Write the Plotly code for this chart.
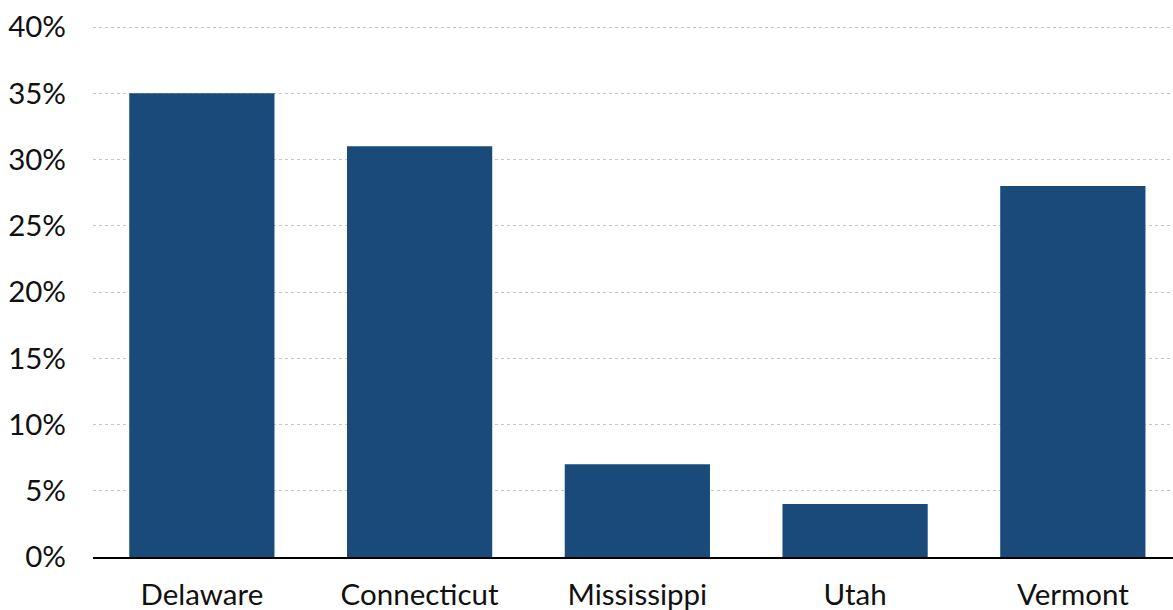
import plotly.graph_objects as go

states = ["Delaware", "Connecticut", "Mississippi", "Utah", "Vermont"]
shares = [35, 31, 7, 4, 28]
y_ticks = [0, 5, 10, 15, 20, 25, 30, 35, 40]
y_tick_labels = [f"{v}%" for v in y_ticks]

fig = go.Figure(go.Bar(
    x=states, y=shares,
    marker=dict(color="#194a7a", line=dict(width=0)),
))

fig.update_layout(
    width=1173, height=610,
    margin=dict(l=93, r=0, t=26, b=53, autoexpand=False),
    plot_bgcolor="white", paper_bgcolor="white",
    bargap=0.333,
    showlegend=False,
    font=dict(family="Lato", size=29.5, color="#111111"),
)
fig.update_xaxes(
    range=[-0.5, 4.46], automargin=False,
    showline=True, linecolor="black", linewidth=2,
    showgrid=False, ticks="", ticklabelstandoff=11,
    tickfont=dict(size=29.5),
)
fig.update_yaxes(
    range=[0, 40.08], tickvals=y_ticks, ticktext=y_tick_labels,
    automargin=False,
    showgrid=True, gridcolor="#c4c4c4", griddash="dot", gridwidth=1,
    zeroline=False, showline=False, ticks="", ticklabelstandoff=26,
    tickfont=dict(size=29.5),
)

fig.write_html("out.html")
